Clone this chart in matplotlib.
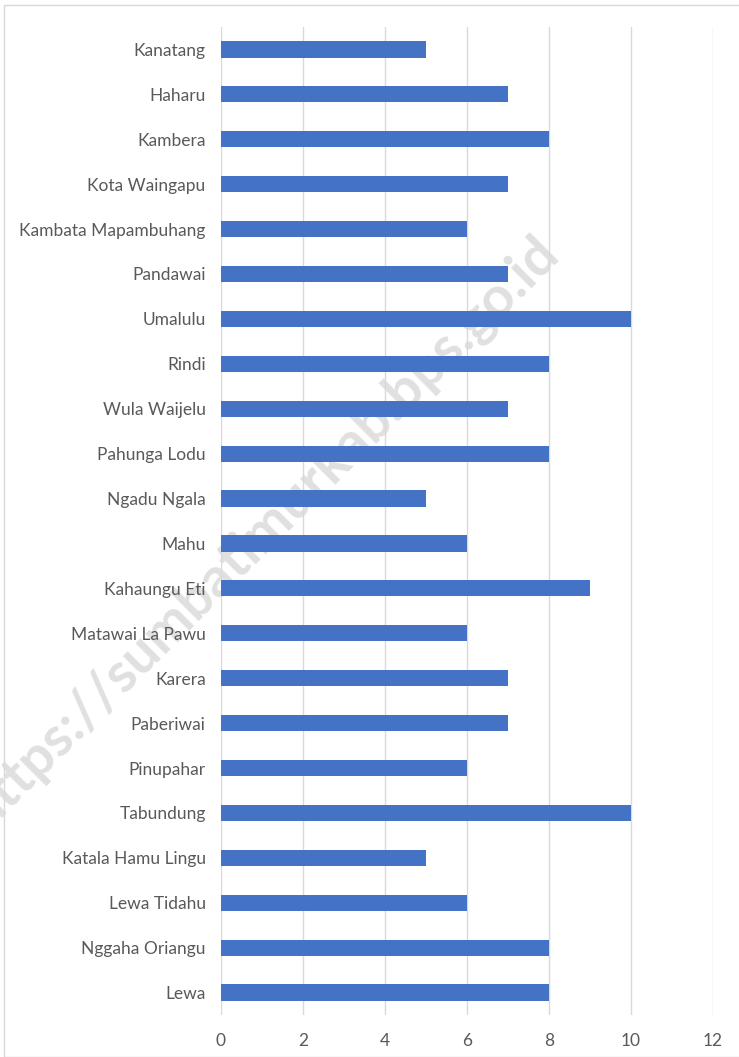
import matplotlib.pyplot as plt
from matplotlib.patches import Rectangle

kecamatan = ['Lewa', 'Nggaha Oriangu', 'Lewa Tidahu', 'Katala Hamu Lingu', 'Tabundung',
             'Pinupahar', 'Paberiwai', 'Karera', 'Matawai La Pawu', 'Kahaungu Eti',
             'Mahu', 'Ngadu Ngala', 'Pahunga Lodu', 'Wula Waijelu', 'Rindi', 'Umalulu',
             'Pandawai', 'Kambata Mapambuhang', 'Kota Waingapu', 'Kambera', 'Haharu',
             'Kanatang']
nilai = [8, 8, 6, 5, 10, 6, 7, 7, 6, 9, 6, 5, 8, 7, 8, 10, 7, 6, 7, 8, 7, 5]
xticks = [0, 2, 4, 6, 8, 10, 12]

plt.rcParams['font.family'] = ['Lato', 'DejaVu Sans']

fig = plt.figure(figsize=(7.39, 10.57), dpi=100)
ax = fig.add_axes([221 / 739, 1 - 1015 / 1057, (713 - 221) / 739, (1015 - 27) / 1057])

# bingkai tipis di sekitar grafik
fig.patches.append(Rectangle((4 / 739, 0), 1, 1 - 5 / 1057, transform=fig.transFigure,
                             fill=False, edgecolor='#D9D9D9', linewidth=1))

ax.barh(range(len(kecamatan)), nilai, height=0.36, color='#4472C4', zorder=3)
ax.set_ylim(-0.5, len(kecamatan) - 0.5)
ax.set_xlim(0, 12)
ax.set_xticks(xticks)
ax.set_yticks(range(len(kecamatan)))
ax.set_yticklabels(kecamatan)
ax.tick_params(axis='both', length=0, labelsize=12.5, colors='#595959')
ax.tick_params(axis='x', pad=13)
ax.tick_params(axis='y', pad=11)
ax.grid(axis='x', color='#D9D9D9', linewidth=1, zorder=0)
for s in ax.spines.values():
    s.set_visible(False)

# watermark transparan, di belakang batang
ax.text(262 / 739, 1 - 532 / 1057, 'https://sumbatimurkab.bps.go.id', transform=fig.transFigure,
        fontsize=40, fontweight='bold', color='#999999', alpha=0.3, rotation=45,
        ha='center', va='center', zorder=1, clip_on=False)

fig.savefig('out.png', dpi=100)
